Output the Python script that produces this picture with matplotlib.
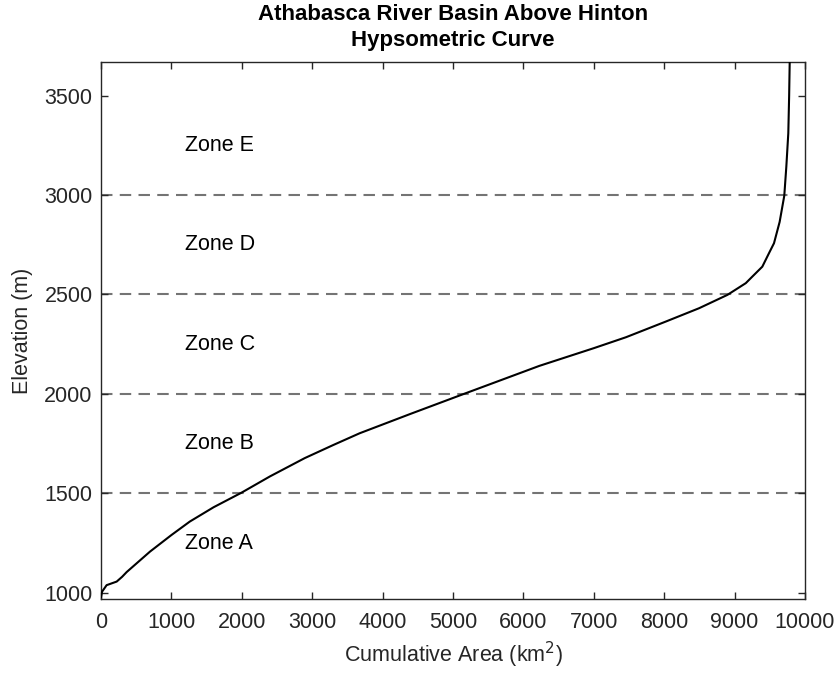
import matplotlib
matplotlib.use("Agg")
import matplotlib.pyplot as plt

plt.rcParams['font.family'] = ['Liberation Sans', 'DejaVu Sans']

# Hypsometric curve
area_km2 = [0, 15, 80, 175, 223, 300, 365, 697, 1000, 1262, 1600, 1995, 2400,
            2894, 3300, 3674, 4400, 5140, 6227, 7000, 7457, 8024, 8496, 8898, 9159,
            9252, 9394, 9489, 9560, 9640, 9706, 9735, 9763, 9775, 9783]
elevation_m = [978, 1005, 1038, 1050, 1056, 1080, 1104, 1207, 1290, 1358, 1430, 1503, 1585,
               1677, 1743, 1802, 1900, 1998, 2141, 2230, 2285, 2364, 2431, 2498, 2557,
               2590, 2640, 2708, 2758, 2865, 2997, 3143, 3311, 3500, 3671]

zone_bounds = [1500, 2000, 2500, 3000]
zone_names = ["Zone A", "Zone B", "Zone C", "Zone D", "Zone E"]
zone_label_y = [1250, 1750, 2250, 2750, 3250]
zone_label_x = 1200

xticks = [0, 1000, 2000, 3000, 4000, 5000, 6000, 7000, 8000, 9000, 10000]
yticks = [1000, 1500, 2000, 2500, 3000, 3500]

axc = '#262626'
fig = plt.figure(figsize=(8.38, 6.8), dpi=100)
ax = fig.add_axes([0.1205, 0.1187, 0.8401, 0.7906])

for b in zone_bounds:
    ax.axhline(b, color='#747474', lw=1.5, dashes=(5.5, 3.5), zorder=1)

ax.plot(area_km2, elevation_m, color='black', lw=1.5, zorder=3,
        solid_joinstyle='round')

for name, y in zip(zone_names, zone_label_y):
    ax.text(zone_label_x, y, name, fontsize=15.5, va='center', ha='left', color='black')

ax.set_xlim(0, 10000)
ax.set_ylim(967, 3671)
ax.set_xticks(xticks)
ax.set_yticks(yticks)
ax.tick_params(direction='in', length=5, width=1, top=True, right=True,
               labelsize=15.5, colors=axc, labelcolor=axc)
ax.tick_params(axis='x', pad=9)
ax.tick_params(axis='y', pad=6)
for s in ax.spines.values():
    s.set_color(axc)
    s.set_linewidth(1)

ax.set_xlabel('Cumulative Area (km$^2$)', fontsize=15.5, color=axc, labelpad=5)
ax.set_ylabel('Elevation (m)', fontsize=15.5, color=axc, labelpad=8)
ax.set_title('Athabasca River Basin Above Hinton\nHypsometric Curve',
             fontsize=16, fontweight='bold', color='black', linespacing=1.35, pad=11)

fig.savefig('out.png', dpi=100)
